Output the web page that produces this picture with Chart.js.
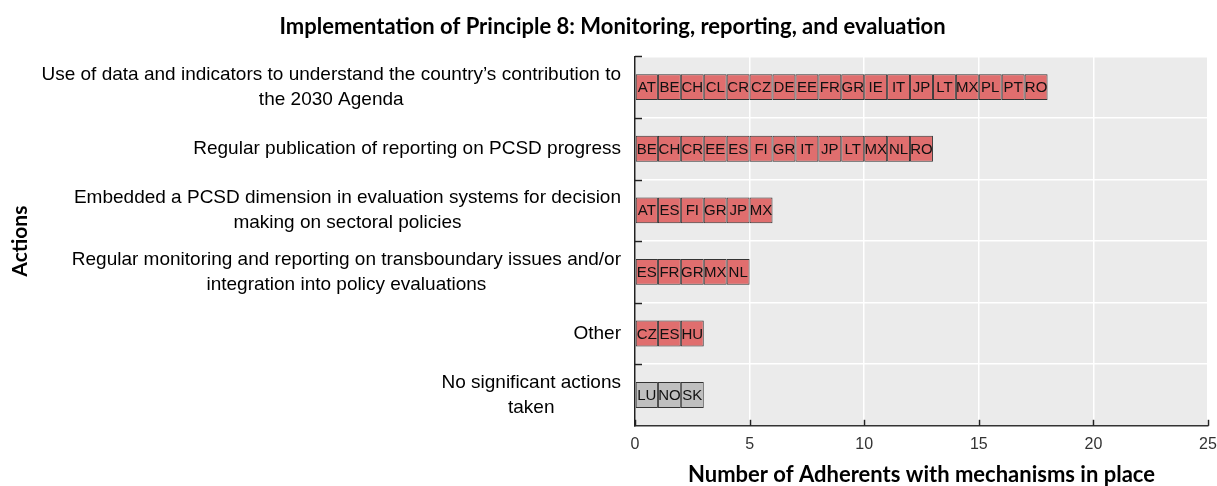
<!DOCTYPE html>
<html>
<head>
<meta charset="utf-8">
<script src="https://cdn.jsdelivr.net/npm/chart.js@4.4.1/dist/chart.umd.min.js"></script>
<style>
  html, body { margin: 0; padding: 0; background: #fff; }
  #wrap { width: 1217px; height: 486px; }
</style>
</head>
<body>
<div id="wrap"><canvas id="barChart"></canvas></div>
<script>
(function () {
    "use strict";

    // categories (y axis), each with the adherents listed in its bar
    var actions = [
        [ "Use of data and indicators to understand the country\u2019s contribution to", "the 2030 Agenda" ],
        [ "Regular publication of reporting on PCSD progress" ],
        [ "Embedded a PCSD dimension in evaluation systems for decision", "making on sectoral policies" ],
        [ "Regular monitoring and reporting on transboundary issues and/or", "integration into policy evaluations" ],
        [ "Other" ],
        [ "No significant actions", "taken" ]
    ];
    var useOfData = [ "AT","BE","CH","CL","CR","CZ","DE","EE","FR","GR","IE","IT","JP","LT","MX","PL","PT","RO" ];
    var regularPublication = [ "BE","CH","CR","EE","ES","FI","GR","IT","JP","LT","MX","NL","RO" ];
    var embeddedPcsd = [ "AT","ES","FI","GR","JP","MX" ];
    var transboundary = [ "ES","FR","GR","MX","NL" ];
    var other = [ "CZ","ES","HU" ];
    var noActions = [ "LU","NO","SK" ];
    var xTicks = [ 0, 5, 10, 15, 20, 25 ];

    var countries = [ useOfData, regularPublication, embeddedPcsd, transboundary, other, noActions ];
    var maxLen = Math.max.apply( null, countries.map( function ( c ) { return c.length; } ) );

    // one dataset per position in the bar, each segment = one adherent
    var datasets = [];
    for ( var i = 0; i < maxLen; i++ ) {
        datasets.push( {
            label: "pos" + i,
            data: countries.map( function ( c ) { return c[ i ] ? 1 : null; } ),
            codes: countries.map( function ( c ) { return c[ i ] || ""; } ),
            backgroundColor: countries.map( function ( c, k ) { return k === countries.length - 1 ? "#bfbfbf" : "#e06e6e"; } ),
            borderColor: "#333333",
            borderWidth: 1,
            borderSkipped: false,
            barPercentage: 1,
            categoryPercentage: 0.42
        } );
    }

    var LABEL_FONT = "19px 'Liberation Sans', Arial, sans-serif";

    var plotBg = {
        id: "plotBg",
        beforeDraw: function ( chart ) {
            var a = chart.chartArea, ctx = chart.ctx;
            ctx.save();
            ctx.fillStyle = "#ebebeb";
            ctx.fillRect( a.left, a.top, a.right - a.left, a.bottom - a.top );
            ctx.restore();
        }
    };

    // inward ticks, segment codes and centred multi-line category labels
    var extras = {
        id: "extras",
        afterDatasetsDraw: function ( chart ) {
            var ctx = chart.ctx, a = chart.chartArea;
            var y = chart.scales.y, x = chart.scales.x;
            ctx.save();

            ctx.strokeStyle = "#222";
            ctx.lineWidth = 1.5;
            var step = ( a.bottom - a.top ) / actions.length;
            for ( var k = 0; k < actions.length; k++ ) {
                var yy = Math.round( a.top + k * step ) + 0.5;
                ctx.beginPath(); ctx.moveTo( a.left, yy ); ctx.lineTo( a.left + 7, yy ); ctx.stroke();
            }
            xTicks.forEach( function ( v ) {
                var xx = Math.round( x.getPixelForValue( v ) ) + 0.5;
                ctx.beginPath(); ctx.moveTo( xx, a.bottom ); ctx.lineTo( xx, a.bottom - 6 ); ctx.stroke();
            } );

            ctx.fillStyle = "#111";
            ctx.font = "15px 'Liberation Sans', Arial, sans-serif";
            ctx.textAlign = "center";
            ctx.textBaseline = "middle";
            chart.data.datasets.forEach( function ( ds, di ) {
                chart.getDatasetMeta( di ).data.forEach( function ( bar, idx ) {
                    var code = ds.codes[ idx ];
                    if ( !code ) return;
                    ctx.fillText( code, ( bar.x + bar.base ) / 2, bar.y + 1 );
                } );
            } );

            ctx.font = LABEL_FONT;
            ctx.fillStyle = "#000";
            actions.forEach( function ( lines, k ) {
                var w = Math.max.apply( null, lines.map( function ( l ) { return ctx.measureText( l ).width; } ) );
                var cx = a.left - 14 - w / 2;
                var cy = y.getPixelForValue( k );
                var lh = 25;
                lines.forEach( function ( l, j ) {
                    ctx.fillText( l, cx, cy + ( j - ( lines.length - 1 ) / 2 ) * lh );
                } );
            } );
            ctx.restore();
        }
    };

    var ctx = document.getElementById( "barChart" );
    new Chart( ctx, {
        type: "bar",
        data: {
            labels: actions.map( function ( l ) { return l.join( " " ); } ),
            datasets: datasets
        },
        plugins: [ plotBg, extras ],
        options: {
            indexAxis: "y",
            responsive: true,
            maintainAspectRatio: false,
            animation: false,
            layout: { padding: { left: 8, right: 0, top: 0, bottom: 0 } },
            plugins: {
                legend: { display: false },
                tooltip: { enabled: false },
                title: {
                    display: true,
                    text: "Implementation of Principle 8: Monitoring, reporting, and evaluation",
                    color: "#000",
                    font: { family: "Lato, 'Open Sans', sans-serif", size: 22, weight: "bold" },
                    padding: { top: 14, bottom: 16 }
                }
            },
            scales: {
                x: {
                    stacked: true,
                    min: 0,
                    max: 25,
                    afterBuildTicks: function ( scale ) {
                        scale.ticks = xTicks.map( function ( v ) { return { value: v }; } );
                    },
                    afterFit: function ( scale ) { scale.paddingRight = 9; },
                    grid: { color: "#ffffff", lineWidth: 1.5, drawTicks: false },
                    border: { color: "#333", width: 1.5 },
                    ticks: {
                        color: "#333",
                        padding: 9,
                        font: { family: "'Liberation Sans Narrow', 'Liberation Sans', sans-serif", size: 16 }
                    },
                    title: {
                        display: true,
                        text: "Number of Adherents with mechanisms in place",
                        color: "#000",
                        font: { family: "Lato, 'Open Sans', sans-serif", size: 22, weight: "bold", lineHeight: 1 },
                        padding: { top: 1, bottom: 0 }
                    }
                },
                y: {
                    stacked: true,
                    grid: { color: "#ffffff", lineWidth: 1.5, drawTicks: false, offset: true },
                    border: { color: "#222", width: 1.5 },
                    ticks: { display: false },
                    afterFit: function ( scale ) { scale.width = 627; },
                    title: {
                        display: true,
                        text: "Actions",
                        color: "#000",
                        font: { family: "Lato, 'Open Sans', sans-serif", size: 21, weight: "bold" },
                        padding: { top: 0, bottom: 0 }
                    }
                }
            }
        }
    } );
} )();
</script>
</body>
</html>
